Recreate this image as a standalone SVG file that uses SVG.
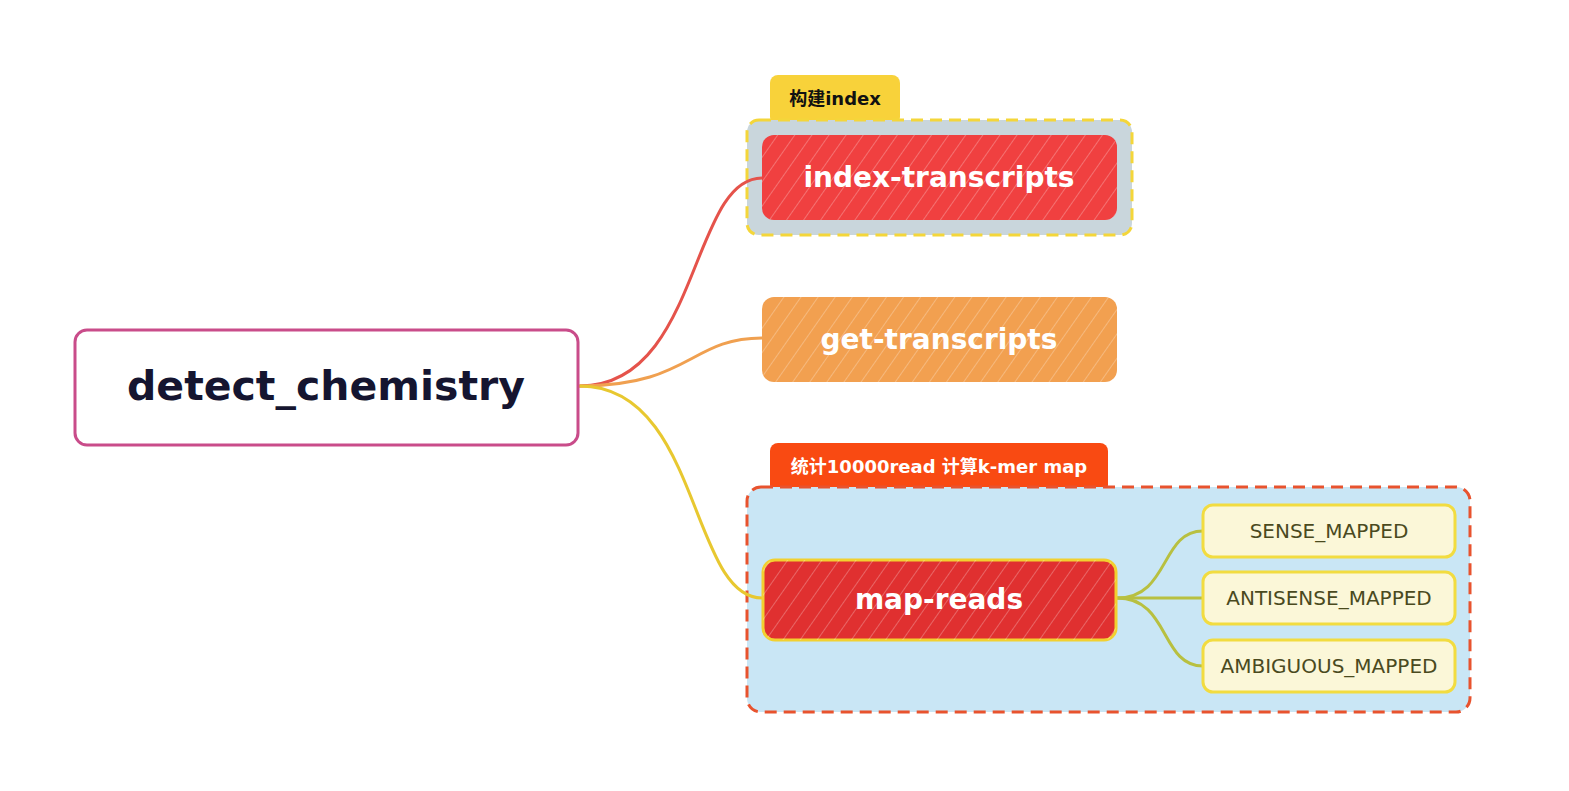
<svg xmlns="http://www.w3.org/2000/svg" width="1569" height="791" viewBox="0 0 1569 791">
<defs>
<pattern id="hatch" width="14" height="14" patternUnits="userSpaceOnUse" patternTransform="rotate(35)">
<line x1="0" y1="0" x2="0" y2="14" stroke="#ffffff" stroke-width="1.5" stroke-opacity="0.35"/>
</pattern>
<style>
.lbl{font-family:"DejaVu Sans","Noto Sans CJK SC",sans-serif;font-weight:bold;text-anchor:middle;dominant-baseline:central}
.big{font-size:28px;fill:#ffffff}
.small{font-size:20px;fill:#4a4a1e;font-weight:normal}
.conn{fill:none;stroke-width:3;stroke-linecap:round}
.leaf{fill:#fbf7d8;stroke:#f2dc40;stroke-width:3}
</style>
</defs>
<rect width="1569" height="791" fill="#ffffff"/>

<g id="group-index">
<rect x="770" y="75" width="130" height="50" rx="8" fill="#f8d23a"/>
<text class="lbl" x="835" y="98" font-size="18" fill="#111">构建index</text>
<rect x="747" y="120" width="385" height="115" rx="12" fill="#c9d6dc" stroke="#f4d63a" stroke-width="3" stroke-dasharray="12 7"/>
</g>

<g id="group-map">
<rect x="770" y="443" width="338" height="50" rx="8" fill="#f94a12"/>
<text class="lbl" x="939" y="466" font-size="18" fill="#ffffff">统计10000read 计算k-mer map</text>
<rect x="747" y="487" width="723" height="225" rx="14" fill="#c9e6f5" stroke="#e8532e" stroke-width="3" stroke-dasharray="12 7"/>
</g>

<g id="connectors">
<path class="conn" stroke="#e5534b" d="M580 386 C700 386 690 178 762 178"/>
<path class="conn" stroke="#f0a050" d="M580 386 C690 386 690 338 762 338"/>
<path class="conn" stroke="#e8c830" d="M580 386 C700 386 690 598 762 598"/>
<path class="conn" stroke="#b8c040" d="M1117 598 C1170 598 1160 531 1203 531"/>
<path class="conn" stroke="#b8c040" d="M1117 598 L1203 598"/>
<path class="conn" stroke="#b8c040" d="M1117 598 C1170 598 1160 666 1203 666"/>
</g>

<g id="node-root">
<rect x="75" y="330" width="503" height="115" rx="12" fill="#ffffff" stroke="#c94c8a" stroke-width="3"/>
<text class="lbl" x="326" y="386" font-size="41" fill="#151530">detect_chemistry</text>
</g>

<g id="node-index-transcripts">
<rect x="762" y="135" width="355" height="85" rx="12" fill="#f04040"/>
<rect x="762" y="135" width="355" height="85" rx="12" fill="url(#hatch)"/>
<text class="lbl big" x="939" y="177">index-transcripts</text>
</g>

<g id="node-get-transcripts">
<rect x="762" y="297" width="355" height="85" rx="12" fill="#f2a050"/>
<rect x="762" y="297" width="355" height="85" rx="12" fill="url(#hatch)"/>
<text class="lbl big" x="939" y="339">get-transcripts</text>
</g>

<g id="node-map-reads">
<rect x="763" y="560" width="353" height="80" rx="12" fill="#e03030" stroke="#f2d030" stroke-width="3"/>
<rect x="763" y="560" width="353" height="80" rx="12" fill="url(#hatch)"/>
<text class="lbl big" x="939" y="599">map-reads</text>
</g>

<g id="node-sense">
<rect class="leaf" x="1203" y="505" width="252" height="52" rx="10"/>
<text class="lbl small" x="1329" y="531">SENSE_MAPPED</text>
</g>
<g id="node-antisense">
<rect class="leaf" x="1203" y="572" width="252" height="52" rx="10"/>
<text class="lbl small" x="1329" y="598">ANTISENSE_MAPPED</text>
</g>
<g id="node-ambiguous">
<rect class="leaf" x="1203" y="640" width="252" height="52" rx="10"/>
<text class="lbl small" x="1329" y="666">AMBIGUOUS_MAPPED</text>
</g>
</svg>
